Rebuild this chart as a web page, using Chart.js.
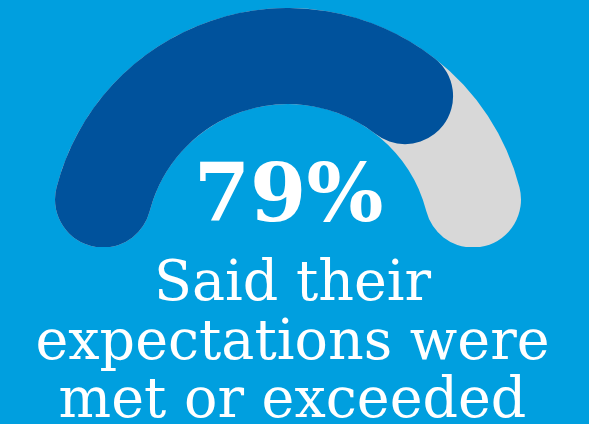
<!DOCTYPE html>
<html>
<head>
<meta charset="utf-8">
<script src="https://cdn.jsdelivr.net/npm/chart.js@4"></script>
<style>
  html, body { margin: 0; padding: 0; }
  body { width: 589px; height: 424px; background: #009fdf; position: relative; overflow: hidden; }
  canvas { position: absolute; left: 49px; top: 8px; }
  .big { position: absolute; left: -6px; width: 589px; top: 143px; text-align: center;
         font-family: "DejaVu Serif", serif; font-weight: bold; font-size: 81px; line-height: 100px; color: #fff; }
  .caption { position: absolute; left: -2px; width: 589px; top: 252px; text-align: center;
             font-family: "DejaVu Serif", serif; font-size: 55.5px; line-height: 58.5px; color: #fff; }
</style>
</head>
<body>
<canvas id="track" width="478" height="239"></canvas>
<canvas id="gauge" width="478" height="239"></canvas>
<div class="big" id="big"></div>
<div class="caption" id="caption"></div>
<script>
// data
const categories = ["Met or exceeded", "Other"];
const values = [79, 21];
const trackValues = [100];
const bigLabel = "79%";
const captionLines = ["Said their", "expectations were", "met or exceeded"];

const darkBlue = "#00529c";
const trackGray = "#d8d8d8";
const capRadius = 48;

document.getElementById("big").textContent = bigLabel;
document.getElementById("caption").innerHTML = captionLines.join("<br>");

const baseOptions = {
  responsive: false,
  animation: false,
  circumference: 180,
  rotation: -90,
  cutout: "59.8%",
  events: [],
  plugins: {
    legend: { display: false },
    tooltip: { enabled: false },
  },
};

// gray track, full half circle
new Chart(document.getElementById("track").getContext("2d"), {
  type: "doughnut",
  data: {
    labels: ["Total"],
    datasets: [
      {
        data: trackValues,
        backgroundColor: [trackGray],
        borderWidth: 0,
        borderRadius: capRadius,
      },
    ],
  },
  options: baseOptions,
});

// dark progress on top
new Chart(document.getElementById("gauge").getContext("2d"), {
  type: "doughnut",
  data: {
    labels: categories,
    datasets: [
      {
        data: values,
        backgroundColor: [darkBlue, "rgba(0,0,0,0)"],
        borderWidth: 0,
        borderRadius: capRadius,
      },
    ],
  },
  options: baseOptions,
});
</script>
</body>
</html>
